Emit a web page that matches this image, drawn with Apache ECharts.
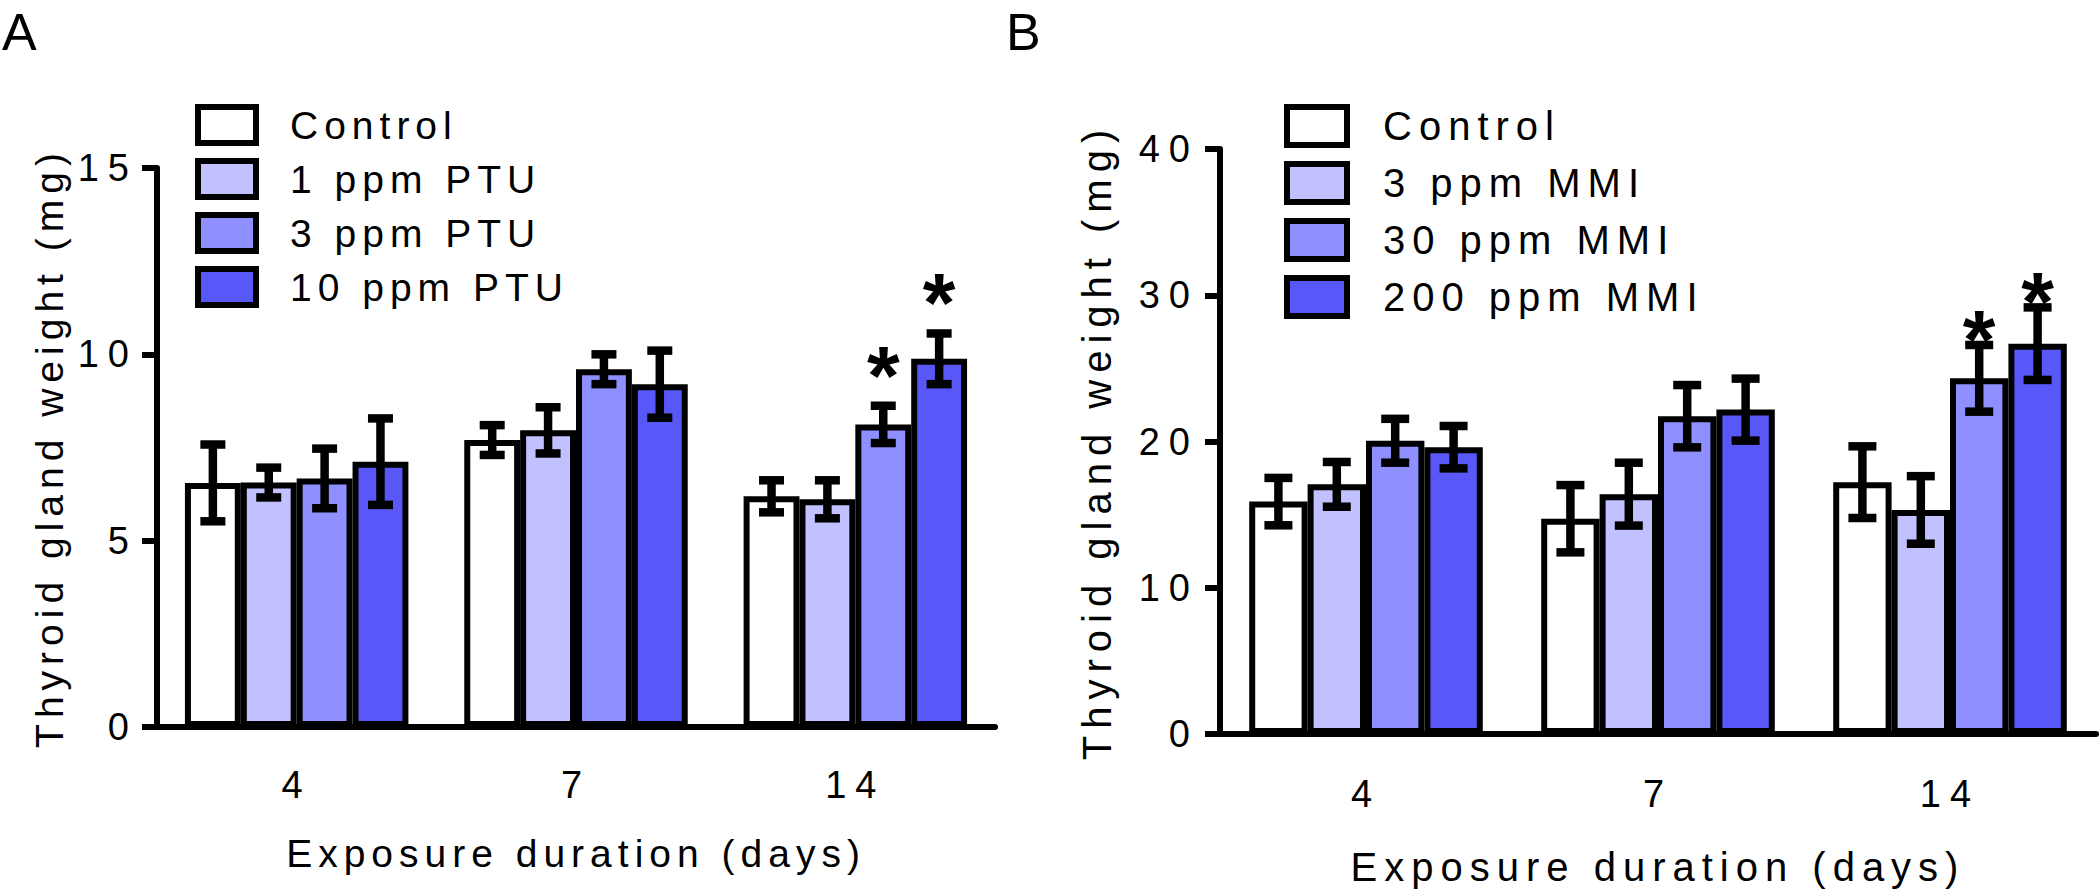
<!DOCTYPE html>
<html><head><meta charset="utf-8">
<script src="https://cdn.jsdelivr.net/npm/echarts@6/dist/echarts.min.js"></script>
<style>
html,body{margin:0;padding:0;background:#fff}
#c{width:2100px;height:892px}
#c text{letter-spacing:6px}
#c text[style*="38px"]{letter-spacing:9px}
#c text[style*="40px"]{letter-spacing:7px}
#c text[style*="84px"], #c text[style*="52px"]{letter-spacing:0}
</style></head><body><div id="c"></div>
<script>
// ---------- data ----------
const days = ['4', '7', '14'];
const namesA = ['Control', '1 ppm PTU', '3 ppm PTU', '10 ppm PTU'];
const namesB = ['Control', '3 ppm MMI', '30 ppm MMI', '200 ppm MMI'];
const colors = ['#ffffff', '#c1c1ff', '#8f8fff', '#5858f9'];

// Panel A (PTU) means and error
const meanA_control = [6.55, 7.70, 6.19];
const meanA_1ppm    = [6.56, 7.96, 6.11];
const meanA_3ppm    = [6.67, 9.60, 8.12];
const meanA_10ppm   = [7.12, 9.20, 9.88];
const errA_control  = [1.03, 0.40, 0.43];
const errA_1ppm     = [0.40, 0.62, 0.51];
const errA_3ppm     = [0.80, 0.40, 0.50];
const errA_10ppm    = [1.16, 0.90, 0.68];
const sigA_control  = [0, 0, 0];
const sigA_1ppm     = [0, 0, 0];
const sigA_3ppm     = [0, 0, 1];
const sigA_10ppm    = [0, 0, 1];

// Panel B (MMI) means and error
const meanB_control = [15.89, 14.72, 17.22];
const meanB_3ppm    = [17.07, 16.40, 15.32];
const meanB_30ppm   = [20.05, 21.73, 24.32];
const meanB_200ppm  = [19.61, 22.18, 26.69];
const errB_control  = [1.62, 2.30, 2.45];
const errB_3ppm     = [1.53, 2.15, 2.31];
const errB_30ppm    = [1.50, 2.13, 2.28];
const errB_200ppm   = [1.45, 2.12, 2.48];
const sigB_control  = [0, 0, 0];
const sigB_3ppm     = [0, 0, 0];
const sigB_30ppm    = [0, 0, 1];
const sigB_200ppm   = [0, 0, 1];

const yTicksA = {min: 0, max: 15, interval: 5};
const yTicksB = {min: 0, max: 40, interval: 10};

// ---------- chart ----------
const FF = 'Liberation Sans';
const chart = echarts.init(document.getElementById('c'), null, {renderer: 'svg'});

function barSeries(g, name, data, color) {
  return {
    type: 'bar', name: name, xAxisIndex: g, yAxisIndex: g, data: data,
    barGap: '0%', barCategoryGap: '20%',
    itemStyle: {color: color, borderColor: '#000', borderWidth: 6},
    emphasis: {disabled: true}, silent: true, z: 2
  };
}

function errSeries(g, barIdx, name, means, errs, sigs, capW, sigGap) {
  return {
    type: 'custom', name: name, xAxisIndex: g, yAxisIndex: g, z: 5, silent: true, clip: false,
    data: means.map((m, i) => [i, m, errs[i], sigs[i]]),
    encode: {x: 0, y: 1},
    renderItem: function (params, api) {
      const i = api.value(0), m = api.value(1), e = api.value(2), s = api.value(3);
      const band = api.size([1, 0])[0];
      const bw = band * 0.8 / 4;
      const cx = api.coord([i, m])[0] + (barIdx - 1.5) * bw;
      const yt = api.coord([i, m + e])[1];
      const yb = api.coord([i, m - e])[1];
      const ls = {stroke: '#000', lineWidth: 8.5};
      const children = [
        {type: 'line', shape: {x1: cx, y1: yt, x2: cx, y2: yb}, style: ls},
        {type: 'line', shape: {x1: cx - capW / 2, y1: yt, x2: cx + capW / 2, y2: yt}, style: ls},
        {type: 'line', shape: {x1: cx - capW / 2, y1: yb, x2: cx + capW / 2, y2: yb}, style: ls}
      ];
      if (s) {
        children.push({type: 'text', style: {
          text: '*', x: cx, y: yt - sigGap, align: 'center', verticalAlign: 'middle',
          fontSize: 84, fontWeight: 'bold', fontFamily: FF, fill: '#000'
        }});
      }
      return {type: 'group', children: children};
    }
  };
}

function xAxisCfg(g, margin, nameGap, nameSize) {
  return {
    gridIndex: g, type: 'category', data: days,
    axisLine: {lineStyle: {color: '#000', width: 6}},
    axisTick: {alignWithLabel: true, length: 17, lineStyle: {color: '#000', width: 6}},
    axisLabel: {color: '#000', fontSize: 38, fontFamily: FF, margin: margin},
    name: 'Exposure duration (days)', nameLocation: 'middle', nameGap: nameGap,
    nameTextStyle: {color: '#000', fontSize: nameSize, fontFamily: FF}
  };
}
function yAxisCfg(g, ticks, margin, nameGap, nameSize) {
  return {
    gridIndex: g, type: 'value', min: ticks.min, max: ticks.max, interval: ticks.interval,
    splitLine: {show: false},
    axisLine: {show: true, lineStyle: {color: '#000', width: 6}},
    axisTick: {show: true, length: 15, lineStyle: {color: '#000', width: 6}},
    axisLabel: {color: '#000', fontSize: 38, fontFamily: FF, margin: margin},
    name: 'Thyroid gland weight (mg)', nameLocation: 'middle', nameGap: nameGap,
    nameTextStyle: {color: '#000', fontSize: nameSize, fontFamily: FF}
  };
}
function legendCfg(data, left, top, iw, ih, gap, size, pad) {
  return {
    data: data, orient: 'vertical', left: left, top: top, itemWidth: iw, itemHeight: ih,
    itemGap: gap, icon: 'rect', selectedMode: false, padding: 0,
    itemStyle: {borderWidth: 6, borderColor: '#000'},
    textStyle: {fontSize: size, color: '#000', fontFamily: FF, padding: [0, 0, 0, pad]}
  };
}

const meansA = [meanA_control, meanA_1ppm, meanA_3ppm, meanA_10ppm];
const errsA = [errA_control, errA_1ppm, errA_3ppm, errA_10ppm];
const sigsA = [sigA_control, sigA_1ppm, sigA_3ppm, sigA_10ppm];
const meansB = [meanB_control, meanB_3ppm, meanB_30ppm, meanB_200ppm];
const errsB = [errB_control, errB_3ppm, errB_30ppm, errB_200ppm];
const sigsB = [sigB_control, sigB_3ppm, sigB_30ppm, sigB_200ppm];

const series = [];
namesA.forEach((n, k) => series.push(barSeries(0, n, meansA[k], colors[k])));
namesB.forEach((n, k) => series.push(barSeries(1, n, meansB[k], colors[k])));
namesA.forEach((n, k) => series.push(errSeries(0, k, n + ' error', meansA[k], errsA[k], sigsA[k], 25, 30)));
namesB.forEach((n, k) => series.push(errSeries(1, k, n + ' error', meansB[k], errsB[k], sigsB[k], 28, 5)));

chart.setOption({
  animation: false,
  backgroundColor: '#fff',
  textStyle: {fontFamily: FF},
  grid: [
    {left: 157, top: 168, width: 838, height: 559},
    {left: 1220, top: 149, width: 876, height: 586}
  ],
  xAxis: [xAxisCfg(0, 39, 107, 39), xAxisCfg(1, 41, 113, 40)],
  yAxis: [yAxisCfg(0, yTicksA, 19, 88, 39), yAxisCfg(1, yTicksB, 21, 103, 40)],
  legend: [
    legendCfg(namesA, 195, 104, 58, 36, 12, 39, 29),
    legendCfg(namesB, 1284, 104, 60, 38, 13, 40, 31)
  ],
  graphic: [
    {type: 'text', left: 2, top: 6, style: {text: 'A', fontSize: 52, fontFamily: FF, fill: '#000'}},
    {type: 'text', left: 1006, top: 6, style: {text: 'B', fontSize: 52, fontFamily: FF, fill: '#000'}}
  ],
  series: series
});
</script></body></html>
